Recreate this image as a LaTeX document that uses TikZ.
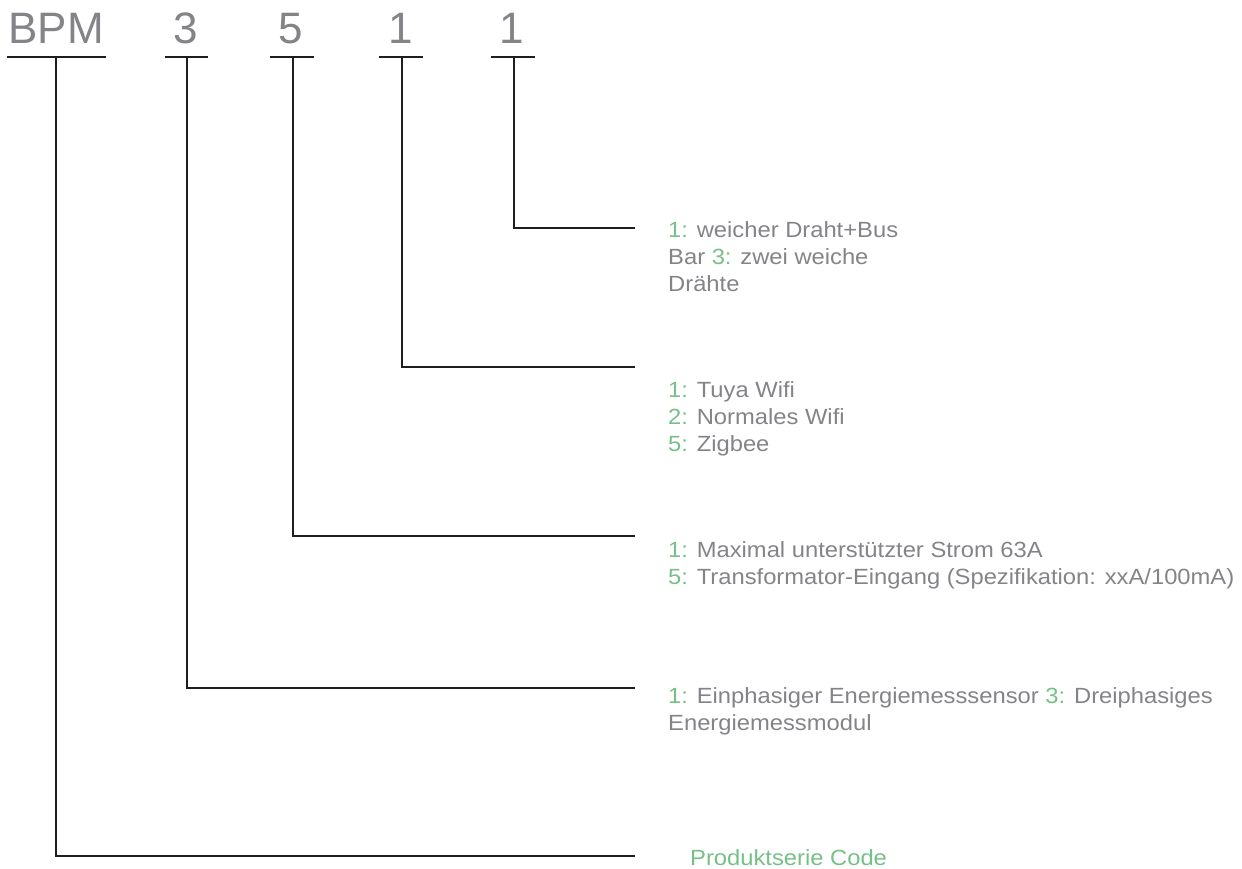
\documentclass[tikz,border=0pt]{standalone}
\usepackage{fontspec}
\setmainfont{Liberation Sans}
\newfontfamily\lblfont[FakeStretch=1.08]{Liberation Sans}
\definecolor{txtgray}{RGB}{132,132,136}
\definecolor{codegreen}{RGB}{118,192,136}
\definecolor{linedark}{RGB}{30,30,30}
\newcommand{\gn}[1]{\textcolor{codegreen}{#1}}
\begin{document}
\begin{tikzpicture}[x=1pt,y=-1pt,
  hdr/.style={text=txtgray,font=\fontsize{44}{44}\selectfont,inner sep=0pt,anchor=base},
  bar/.style={draw=linedark,line width=2pt},
  conn/.style={draw=linedark,line width=2pt},
  lbl/.style={text=txtgray,font=\lblfont\fontsize{22}{27.3}\selectfont,align=left,inner sep=0pt,anchor=north west}]
\useasboundingbox (0,0) rectangle (1242,869);
% header codes
\node[hdr] (hBPM) at (56,44) {BPM};
\node[hdr] (h3) at (186,44) {3};
\node[hdr] (h5) at (291,44) {5};
\node[hdr] (h1a) at (401,44) {1};
\node[hdr] (h1b) at (512,44) {1};
% underline bars
\draw[bar] (7,57) -- (106,57);
\draw[bar] (165,57) -- (208,57);
\draw[bar] (270,57) -- (314,57);
\draw[bar] (379,57) -- (423,57);
\draw[bar] (491,57) -- (535,57);
% stem tops
\coordinate (sBPM) at (56,57);
\coordinate (s3) at (187,57);
\coordinate (s5) at (293,57);
\coordinate (s1a) at (402,57);
\coordinate (s1b) at (514,57);
% line ends
\coordinate (e1b) at (635,228);
\coordinate (e1a) at (635,367);
\coordinate (e5) at (635,536);
\coordinate (e3) at (635,688);
\coordinate (eBPM) at (635,856);
% connectors
\draw[conn] (s1b) |- (e1b);
\draw[conn] (s1a) |- (e1a);
\draw[conn] (s5) |- (e5);
\draw[conn] (s3) |- (e3);
\draw[conn] (sBPM) |- (eBPM);
% labels
\node[lbl] (l1b) at (668,221) {\gn{1:} weicher Draht+Bus\\Bar \gn{3:} zwei weiche\\Drähte};
\node[lbl] (l1a) at (668,381) {\gn{1:} Tuya Wifi\\\gn{2:} Normales Wifi\\\gn{5:} Zigbee};
\node[lbl] (l5) at (668,541) {\gn{1:} Maximal unterstützter Strom 63A\\\gn{5:} Transformator-Eingang (Spezifikation: xxA/100mA)};
\node[lbl] (l3) at (668,687) {\gn{1:} Einphasiger Energiemesssensor \gn{3:} Dreiphasiges\\Energiemessmodul};
\node[lbl,text=codegreen] (lBPM) at (690,849) {Produktserie Code};
\end{tikzpicture}
\end{document}
